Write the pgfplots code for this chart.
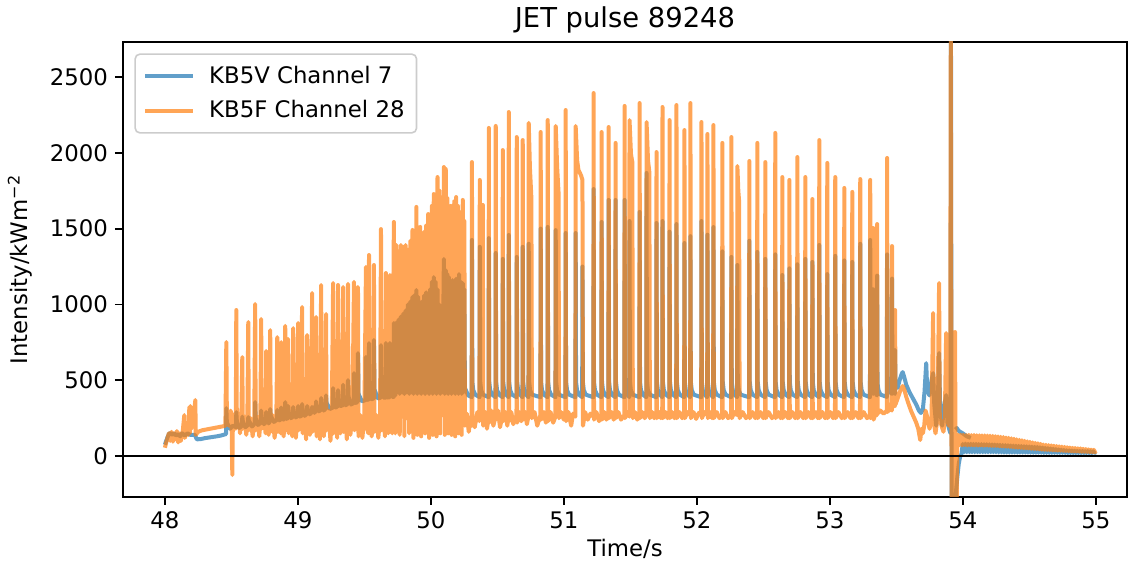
\documentclass[border=0pt]{standalone}
\usepackage{pgfplots}
\pgfplotsset{compat=1.18}
\usepackage{fontspec}
\setmainfont{DejaVu Sans}
\definecolor{tabblue}{HTML}{1F77B4}
\definecolor{taborange}{HTML}{FF7F0E}
\newcommand{\tickfont}{\fontsize{11.4}{13.7}\selectfont}
\begin{document}
\begin{tikzpicture}
\begin{axis}[
  scale only axis, width=502pt, height=227.5pt,
  xmin=47.685, xmax=55.235, ymin=-270, ymax=2731,
  xtick={48,49,...,55}, ytick={0,500,...,2500},
  tick align=outside, tick pos=left, major tick length=4pt,
  axis line style={line width=0.9pt},
  every tick/.style={black, line width=0.9pt},
  /pgf/number format/assume math mode=true,
  /pgf/number format/set thousands separator={},
  tick label style={font=\tickfont},
  label style={font=\tickfont},
  title={JET pulse 89248},
  title style={font=\fontsize{13.7}{16}\selectfont, at={(axis description cs:0.5,1)}, anchor=base, yshift=1pt},
  xlabel={Time/s},
  xlabel style={at={(axis description cs:0.5,0)}, anchor=base, yshift=-30pt},
  ylabel={Intensity/kWm\textsuperscript{−2}},
  ylabel style={at={(axis description cs:-0.1026,0.5)}, anchor=center},
  unbounded coords=jump,
  legend cell align=left,
  legend style={at={(axis description cs:0,1)}, anchor=north west, xshift=5.7pt, yshift=-5.7pt,
    draw=black!20, line width=0.8pt, rounded corners=2.3pt, fill=white, fill opacity=0.8, text opacity=1, draw opacity=1,
    font=\tickfont, inner xsep=4pt, inner ysep=4pt, row sep=3pt},
  legend image code/.code={\draw[#1] (0pt,0pt) -- (24pt,0pt); \path (29pt,0pt);},
]
\coordinate (ll) at (rel axis cs:0,0);
\coordinate (ur) at (rel axis cs:1,1);
% KB5V Channel 7
\addplot[tabblue, draw opacity=0.7, line width=2pt, line join=round, mark=none] coordinates {
(48.000,75) (48.010,100) (48.020,125) (48.030,145) (48.040,152) (48.055,140) (48.070,150) (48.085,135)
(48.100,145) (48.115,130) (48.130,150) (48.150,135) (48.170,150) (48.190,140) (48.225,140) (48.240,110)
(48.270,112) (48.300,118) (48.330,122) (48.360,126) (48.390,130) (48.420,135) (48.460,145)
(48.462,316) (48.466,220) (48.490,180) (48.510,200) (48.535,190) (48.537,290) (48.541,230) (48.560,185)
(48.580,200) (48.582,260) (48.586,230) (48.605,190) (48.625,205) (48.627,257) (48.631,235) (48.655,195)
(48.677,215) (48.679,356) (48.683,250) (48.700,205) (48.722,220) (48.724,300) (48.728,255) (48.745,210)
(48.760,225) (48.762,290) (48.766,260) (48.780,215) (48.790,230) (48.792,310) (48.796,265) (48.820,225)
(48.843,240) (48.845,304) (48.849,270) (48.862,235) (48.873,245) (48.875,320) (48.879,280) (48.892,240)
(48.903,250) (48.905,356) (48.909,285) (48.918,245) (48.925,255) (48.927,330) (48.931,290) (48.948,250)
(48.963,260) (48.965,323) (48.969,295) (48.985,255) (49.000,265) (49.002,330) (49.006,300) (49.018,260)
(49.030,270) (49.032,343) (49.036,305) (49.052,265) (49.068,280) (49.070,330) (49.074,310) (49.090,275)
(49.105,290) (49.107,323) (49.111,320) (49.125,285) (49.135,300) (49.137,360) (49.141,330) (49.158,295)
(49.173,305) (49.175,383) (49.179,340) (49.195,300) (49.210,315) (49.212,400) (49.216,350) (49.240,310)
(49.263,320) (49.265,448) (49.269,360) (49.285,320) (49.300,330) (49.302,435) (49.306,370) (49.322,330)
(49.338,335) (49.340,470) (49.344,380) (49.360,335) (49.375,345) (49.377,501) (49.381,390) (49.400,340)
(49.420,350) (49.422,547) (49.426,400) (49.438,350) (49.450,360) (49.452,679) (49.456,410) (49.482,360)
(49.510,370) (49.512,653) (49.516,420) (49.525,370) (49.533,375) (49.535,745) (49.539,430) (49.555,375)
(49.570,380) (49.572,765) (49.576,440) (49.600,380) (49.623,385) (49.625,732) (49.629,440) (49.645,385)
(49.660,385) (49.662,745) (49.666,440) (49.680,385) (49.690,390) (49.692,745) (49.696,440) (49.710,390)
(49.720,390) (49.722,877) (49.726,440)
(49.733,400) (49.740,880) (49.748,420) (49.757,900) (49.766,410) (49.775,920) (49.784,420) (49.793,940)
(49.801,410) (49.810,960) (49.819,420) (49.828,1000) (49.837,410) (49.846,1020) (49.854,420) (49.862,1050)
(49.869,410) (49.876,1060) (49.884,420) (49.891,1095) (49.898,410) (49.905,1050) (49.912,420) (49.920,1000)
(49.927,410) (49.935,1020) (49.942,420) (49.950,1060) (49.957,410) (49.965,1080) (49.972,420) (49.980,1073)
(49.987,410) (49.995,1100) (50.001,420) (50.008,1150) (50.015,410) (50.022,1180) (50.029,420) (50.036,1150)
(50.043,410) (50.050,1100) (50.056,420) (50.063,1000) (50.070,410) (50.077,900) (50.087,420) (50.098,1300)
(50.105,410) (50.112,1227) (50.118,420) (50.125,1200) (50.130,410) (50.136,1180) (50.143,420) (50.150,1150)
(50.156,410) (50.163,1160) (50.170,420) (50.176,1150) (50.183,410) (50.190,1170) (50.196,420) (50.203,1150)
(50.208,410) (50.212,1200) (50.218,420) (50.225,1150) (50.232,410) (50.240,1141) (50.246,420) (50.252,1100)
(50.256,450) (50.280,400)
(50.307,388) (50.309,1425) (50.312,490) (50.319,435) (50.334,405)
(50.366,388) (50.368,1380) (50.371,490) (50.378,435) (50.393,405)
(50.434,388) (50.436,1437) (50.439,490) (50.446,435) (50.461,405)
(50.486,388) (50.488,1339) (50.491,490) (50.498,435) (50.513,405)
(50.539,388) (50.541,1300) (50.544,490) (50.551,435) (50.566,405)
(50.584,388) (50.586,1458) (50.589,490) (50.596,435) (50.611,405)
(50.644,388) (50.646,1313) (50.649,490) (50.656,435) (50.671,405)
(50.689,388) (50.691,1380) (50.694,490) (50.701,435) (50.716,405)
(50.734,388) (50.736,1400) (50.739,490) (50.746,435) (50.761,405)
(50.824,388) (50.826,1500) (50.829,490) (50.836,435) (50.851,405)
(50.877,388) (50.879,1511) (50.882,490) (50.889,435) (50.904,405)
(50.937,388) (50.939,1490) (50.942,490) (50.949,435) (50.964,405)
(51.012,388) (51.014,1471) (51.017,490) (51.024,435) (51.039,405)
(51.087,388) (51.089,1471) (51.092,490) (51.099,435) (51.114,405)
(51.138,388) (51.140,1250) (51.143,490) (51.150,435) (51.165,405)
(51.222,388) (51.224,1761) (51.227,490) (51.234,435) (51.249,405)
(51.282,388) (51.284,1544) (51.287,490) (51.294,435) (51.309,405)
(51.335,388) (51.337,1689) (51.340,490) (51.347,435) (51.362,405)
(51.387,388) (51.389,1689) (51.392,490) (51.399,435) (51.414,405)
(51.455,388) (51.457,1689) (51.460,490) (51.467,435) (51.482,405)
(51.492,388) (51.494,1550) (51.497,490) (51.504,435) (51.519,405)
(51.568,388) (51.570,1610) (51.573,490) (51.580,435) (51.595,405)
(51.620,388) (51.622,1867) (51.625,490) (51.632,435) (51.647,405)
(51.695,388) (51.697,1537) (51.700,490) (51.707,435) (51.722,405)
(51.740,388) (51.742,1550) (51.745,490) (51.752,435) (51.767,405)
(51.793,388) (51.795,1480) (51.798,490) (51.805,435) (51.820,405)
(51.845,388) (51.847,1530) (51.850,490) (51.857,435) (51.872,405)
(51.905,388) (51.907,1405) (51.910,490) (51.917,435) (51.932,405)
(51.950,388) (51.952,1450) (51.955,490) (51.962,435) (51.977,405)
(52.033,388) (52.035,1550) (52.038,490) (52.045,435) (52.060,405)
(52.078,388) (52.080,1460) (52.083,490) (52.090,435) (52.105,405)
(52.123,388) (52.125,1510) (52.128,490) (52.135,435) (52.150,405)
(52.190,388) (52.192,1350) (52.195,490) (52.202,435) (52.217,405)
(52.258,388) (52.260,1313) (52.263,490) (52.270,435) (52.285,405)
(52.303,388) (52.305,1260) (52.308,490) (52.315,435) (52.330,405)
(52.393,388) (52.395,1420) (52.398,490) (52.405,435) (52.420,405)
(52.453,388) (52.455,1346) (52.458,490) (52.465,435) (52.480,405)
(52.513,388) (52.515,1300) (52.518,490) (52.525,435) (52.540,405)
(52.588,388) (52.590,1330) (52.593,490) (52.600,435) (52.615,405)
(52.641,388) (52.643,1194) (52.646,490) (52.653,435) (52.668,405)
(52.694,388) (52.696,1238) (52.699,490) (52.706,435) (52.721,405)
(52.754,388) (52.756,1265) (52.759,490) (52.766,435) (52.781,405)
(52.814,388) (52.816,1300) (52.819,490) (52.826,435) (52.841,405)
(52.867,388) (52.869,1280) (52.872,490) (52.879,435) (52.894,405)
(52.919,388) (52.921,1392) (52.924,490) (52.931,435) (52.946,405)
(52.979,388) (52.981,1200) (52.984,490) (52.991,435) (53.006,405)
(53.039,388) (53.041,1320) (53.044,490) (53.051,435) (53.066,405)
(53.107,388) (53.109,1290) (53.112,490) (53.119,435) (53.134,405)
(53.167,388) (53.169,1280) (53.172,490) (53.179,435) (53.194,405)
(53.227,388) (53.229,1400) (53.232,490) (53.239,435) (53.254,405)
(53.302,388) (53.304,1425) (53.307,490) (53.315,430) (53.324,410)
(53.326,1100) (53.329,480) (53.340,420)
(53.354,400) (53.356,1190) (53.359,480) (53.366,435) (53.381,405)
(53.429,390) (53.431,1330) (53.434,490) (53.441,440) (53.455,420)
(53.466,410) (53.468,1170) (53.471,480) (53.480,420) (53.489,410)
(53.491,700) (53.494,460)
(53.510,450) (53.525,500) (53.540,540) (53.548,554) (53.560,520) (53.575,470) (53.600,420) (53.625,380)
(53.650,340) (53.670,300) (53.685,284) (53.700,310) (53.712,420) (53.725,613) (53.732,450) (53.748,400)
(53.765,500) (53.777,547) (53.785,350) (53.800,200) (53.812,350) (53.822,679) (53.830,300) (53.845,200)
(53.860,330) (53.875,402) (53.885,220) (53.900,170) (53.908,150) (53.911,2900) (53.916,-400) (53.940,-400)
(53.950,-224) (53.960,-130) (53.970,-50) (53.980,-5) (53.990,15)
(54.000,80) (54.010,25) (54.020,82) (54.030,25) (54.040,80) (54.050,25) (54.060,81) (54.070,25)
(54.080,80) (54.090,25) (54.100,80) (54.110,25) (54.120,79) (54.130,25) (54.140,79) (54.150,25)
(54.160,78) (54.170,25) (54.180,78) (54.190,25) (54.200,77) (54.210,25) (54.220,77) (54.230,25)
(54.240,76) (54.250,25) (54.260,75) (54.270,24) (54.280,74) (54.290,24) (54.300,73) (54.310,23)
(54.320,72) (54.330,23) (54.340,71) (54.350,23) (54.360,70) (54.370,23) (54.380,69) (54.390,23)
(54.400,68) (54.410,23) (54.420,67) (54.430,23) (54.440,66) (54.450,23) (54.460,65) (54.470,23)
(54.480,64) (54.490,23) (54.500,63) (54.510,22) (54.520,62) (54.530,22) (54.540,61) (54.550,22)
(54.560,60) (54.570,22) (54.580,58) (54.590,22) (54.600,56) (54.610,21) (54.620,54) (54.630,21)
(54.640,52) (54.650,21) (54.660,50) (54.670,21) (54.680,48) (54.690,21) (54.700,46) (54.710,21)
(54.720,44) (54.730,21) (54.740,42) (54.750,21) (54.760,40) (54.770,21) (54.780,38) (54.790,20)
(54.800,37) (54.810,20) (54.820,36) (54.830,20) (54.840,35) (54.850,20) (54.860,34) (54.870,20)
(54.880,33) (54.890,20) (54.900,33) (54.910,20) (54.920,32) (54.930,20) (54.940,32) (54.950,20)
(54.960,31) (54.970,20) (54.980,31) (54.990,20) (55.000,25)
(55.000,nan)
(53.945,175) (53.955,185) (53.965,170) (53.980,160) (54.000,150) (54.030,130) (54.060,120)
};
\addlegendentry{\tickfont KB5V Channel 7}
% KB5F Channel 28
\addplot[taborange, draw opacity=0.7, line width=2pt, line join=round, mark=none] coordinates {
(48.000,55) (48.010,90) (48.020,120) (48.030,150) (48.040,100) (48.050,160) (48.060,95) (48.070,150)
(48.080,110) (48.090,165) (48.100,90) (48.110,150) (48.120,100) (48.135,170) (48.146,270) (48.150,120)
(48.165,160) (48.175,140) (48.184,323) (48.188,150) (48.191,330) (48.195,180) (48.210,200) (48.229,370)
(48.232,140) (48.250,160) (48.280,170) (48.310,175) (48.340,180) (48.370,185) (48.400,190) (48.430,195)
(48.455,200) (48.462,752) (48.466,260) (48.480,200) (48.495,300) (48.503,160) (48.507,-125) (48.511,220)
(48.525,280) (48.533,180) (48.537,963) (48.541,200) (48.555,280) (48.565,150) (48.575,250) (48.582,653)
(48.586,180) (48.600,260) (48.612,140) (48.620,230) (48.627,884) (48.631,170) (48.645,250) (48.660,130)
(48.672,240) (48.679,1003) (48.683,170) (48.695,260) (48.710,130) (48.718,240) (48.724,904) (48.728,180)
(48.745,270) (48.757,150) (48.762,693) (48.766,220) (48.780,140) (48.788,250) (48.792,831) (48.796,160)
(48.810,270) (48.825,120) (48.838,240) (48.845,785) (48.849,160) (48.860,260) (48.871,150) (48.875,752)
(48.879,220) (48.893,130) (48.900,250) (48.905,858) (48.909,170) (48.920,260) (48.927,772) (48.931,150)
(48.945,270) (48.958,130) (48.965,844) (48.969,240) (48.985,120) (48.995,250) (49.002,877) (49.006,170)
(49.020,290) (49.032,983) (49.036,150) (49.050,260) (49.062,110) (49.070,798) (49.074,230) (49.090,140)
(49.100,270) (49.107,1075) (49.111,160) (49.125,280) (49.137,917) (49.141,130) (49.155,260) (49.166,110)
(49.175,1128) (49.179,240) (49.195,130) (49.205,280) (49.212,937) (49.216,170) (49.230,300) (49.245,100)
(49.255,250) (49.265,1141) (49.269,150) (49.285,280) (49.296,120) (49.302,1128) (49.306,250) (49.320,150)
(49.333,280) (49.340,1115) (49.344,160) (49.358,270) (49.368,110) (49.377,1135) (49.381,240) (49.395,140)
(49.410,270) (49.422,1148) (49.426,170) (49.440,260) (49.452,1115) (49.456,130) (49.470,270) (49.485,120)
(49.500,260) (49.512,1247) (49.516,200) (49.530,150) (49.535,1326) (49.539,230) (49.555,130) (49.565,250)
(49.572,1260) (49.576,160) (49.590,270) (49.605,120) (49.618,250) (49.625,1497) (49.629,170) (49.645,260)
(49.655,130) (49.662,1207) (49.666,240) (49.680,150) (49.692,1194) (49.696,220) (49.710,150) (49.722,1544)
(49.726,200) (49.733,150) (49.740,1392) (49.748,250) (49.757,1350) (49.766,140) (49.775,1392) (49.784,260)
(49.793,1379) (49.801,130) (49.810,1392) (49.819,250) (49.828,1360) (49.837,150) (49.846,1420) (49.854,240)
(49.862,1491) (49.869,120) (49.876,1400) (49.884,250) (49.891,1643) (49.898,140) (49.905,1450) (49.912,260)
(49.920,1511) (49.927,130) (49.935,1420) (49.942,250) (49.950,1480) (49.957,150) (49.965,1520) (49.972,240)
(49.980,1596) (49.987,120) (49.995,1560) (50.001,250) (50.008,1650) (50.015,140) (50.022,1728) (50.029,260)
(50.036,1700) (50.043,130) (50.050,1840) (50.056,250) (50.063,1750) (50.070,150) (50.077,1650) (50.087,270)
(50.098,1906) (50.105,140) (50.112,1893) (50.118,250) (50.125,1700) (50.130,150) (50.136,1636) (50.143,260)
(50.150,1650) (50.156,140) (50.163,1620) (50.170,250) (50.176,1680) (50.183,130) (50.190,1708) (50.196,260)
(50.203,1650) (50.208,150) (50.212,1610) (50.218,250) (50.225,1600) (50.232,140) (50.240,1689) (50.246,250)
(50.252,1550) (50.256,200) (50.270,280) (50.285,160) (50.300,260) (50.307,200)
(50.309,1939) (50.312,250) (50.330,190) (50.350,290) (50.365,230) (50.368,1821) (50.371,300) (50.388,250)
(50.391,1656) (50.394,200) (50.410,290) (50.422,180) (50.434,250) (50.436,2164) (50.439,220) (50.455,300)
(50.470,200) (50.486,260) (50.488,2177) (50.491,240) (50.505,300) (50.520,190) (50.539,270) (50.541,2018)
(50.544,230) (50.560,290) (50.575,200) (50.584,260) (50.586,2269) (50.589,230) (50.605,290) (50.620,210)
(50.644,270) (50.646,2104) (50.649,220) (50.665,290) (50.680,230) (50.689,250) (50.691,2084) (50.694,240)
(50.710,290) (50.722,210) (50.734,260) (50.736,2197) (50.745,1900) (50.756,1702) (50.760,250) (50.780,290)
(50.800,200) (50.824,270) (50.826,2137) (50.829,240) (50.850,290) (50.865,220) (50.877,260) (50.879,2216)
(50.882,230) (50.900,290) (50.920,220) (50.937,260) (50.939,2177) (50.950,1900) (50.960,1742) (50.964,250)
(50.980,290) (51.000,240) (51.012,270) (51.014,2282) (51.017,230) (51.035,290) (51.055,200) (51.070,280)
(51.087,260) (51.089,2177) (51.100,1950) (51.110,1887) (51.130,1850) (51.140,1821) (51.144,200) (51.160,290)
(51.180,240) (51.200,280) (51.222,260) (51.224,2394) (51.227,240) (51.245,290) (51.265,230) (51.282,270)
(51.284,2137) (51.287,240) (51.305,290) (51.320,240) (51.335,270) (51.337,2170) (51.340,250) (51.360,290)
(51.375,240) (51.387,270) (51.389,2065) (51.392,250) (51.410,290) (51.430,240) (51.455,270) (51.457,2309)
(51.460,250) (51.478,290) (51.492,260) (51.494,2216) (51.505,1990) (51.515,1939) (51.519,250) (51.535,290)
(51.552,240) (51.568,270) (51.570,2328) (51.573,250) (51.590,290) (51.608,250) (51.620,270) (51.622,2203)
(51.633,1950) (51.643,1873) (51.647,250) (51.665,290) (51.680,250) (51.695,270) (51.697,2005) (51.700,250)
(51.718,290) (51.730,250) (51.740,270) (51.742,2302) (51.745,250) (51.765,290) (51.780,250) (51.793,270)
(51.795,2216) (51.798,250) (51.815,290) (51.832,250) (51.845,270) (51.847,2315) (51.850,250) (51.870,290)
(51.890,250) (51.905,270) (51.907,2150) (51.910,250) (51.930,290) (51.950,270) (51.952,2328) (51.955,250)
(51.975,290) (51.995,245) (52.015,285) (52.033,270) (52.035,2203) (52.038,250) (52.058,290) (52.078,270)
(52.080,2124) (52.083,250) (52.100,290) (52.115,250) (52.123,270) (52.125,2183) (52.128,250) (52.150,290)
(52.170,250) (52.190,270) (52.192,2065) (52.195,250) (52.215,290) (52.235,250) (52.258,270) (52.260,2104)
(52.263,250) (52.283,290) (52.303,270) (52.305,1913) (52.312,1750) (52.318,1682) (52.322,250) (52.345,290)
(52.370,250) (52.393,270) (52.395,1946) (52.398,250) (52.420,290) (52.440,250) (52.453,270) (52.455,2065)
(52.458,250) (52.480,290) (52.500,250) (52.513,270) (52.515,1939) (52.518,250) (52.540,290) (52.565,250)
(52.588,270) (52.590,2131) (52.593,250) (52.615,290) (52.630,250) (52.641,270) (52.643,1840) (52.646,250)
(52.665,290) (52.685,250) (52.694,270) (52.696,1821) (52.699,250) (52.720,290) (52.740,250) (52.754,270)
(52.756,1972) (52.759,250) (52.780,290) (52.800,250) (52.814,270) (52.816,1840) (52.819,250) (52.840,290)
(52.858,250) (52.867,270) (52.869,1695) (52.872,250) (52.895,290) (52.910,250) (52.919,270) (52.921,2084)
(52.924,250) (52.945,290) (52.965,250) (52.979,270) (52.981,1933) (52.984,250) (53.005,290) (53.025,250)
(53.039,270) (53.041,1840) (53.044,250) (53.065,290) (53.090,250) (53.107,270) (53.109,1768) (53.112,250)
(53.135,290) (53.155,250) (53.167,270) (53.169,1742) (53.172,250) (53.195,290) (53.215,250) (53.227,270)
(53.229,1827) (53.232,250) (53.255,290) (53.280,250) (53.302,270) (53.304,1821) (53.307,250) (53.315,260)
(53.324,270) (53.326,1504) (53.329,240) (53.345,280) (53.354,270) (53.356,1530) (53.359,280) (53.380,300)
(53.405,280) (53.429,300) (53.431,1966) (53.434,290) (53.450,320) (53.466,300) (53.468,1385) (53.472,330)
(53.489,330) (53.491,963) (53.494,340) (53.510,380) (53.530,430) (53.548,462) (53.560,440) (53.575,390)
(53.590,350) (53.610,300) (53.630,260) (53.650,220) (53.665,180) (53.680,106) (53.690,180) (53.700,150)
(53.710,200) (53.720,300) (53.735,250) (53.750,180) (53.765,250) (53.777,943) (53.782,220) (53.795,150)
(53.810,250) (53.822,1141) (53.827,250) (53.840,200) (53.855,160) (53.865,250) (53.875,811) (53.880,280)
(53.895,200) (53.905,250) (53.910,2900) (53.916,-400) (53.936,-400) (53.942,818) (53.947,-400) (53.954,-350)
(53.958,110) (53.965,140) (53.975,72) (53.985,141) (53.995,70) (54.005,140) (54.015,72) (54.025,139)
(54.035,70) (54.045,140) (54.055,71) (54.065,138) (54.075,70) (54.085,139) (54.095,70) (54.105,137)
(54.115,69) (54.125,137) (54.135,70) (54.145,136) (54.155,68) (54.165,136) (54.175,69) (54.185,135)
(54.195,68) (54.205,134) (54.215,67) (54.225,133) (54.235,66) (54.245,131) (54.255,66) (54.265,129)
(54.275,64) (54.285,127) (54.295,63) (54.305,125) (54.315,62) (54.325,122) (54.335,61) (54.345,120)
(54.355,60) (54.365,117) (54.375,58) (54.385,114) (54.395,56) (54.405,110) (54.415,55) (54.425,107)
(54.435,54) (54.445,104) (54.455,52) (54.465,100) (54.475,51) (54.485,97) (54.495,50) (54.505,94)
(54.515,48) (54.525,90) (54.535,47) (54.545,87) (54.555,46) (54.565,84) (54.575,44) (54.585,80)
(54.595,42) (54.605,76) (54.615,41) (54.625,74) (54.635,40) (54.645,72) (54.655,39) (54.665,70)
(54.675,38) (54.685,68) (54.695,37) (54.705,66) (54.715,36) (54.725,64) (54.735,35) (54.745,62)
(54.755,34) (54.765,60) (54.775,33) (54.785,58) (54.795,32) (54.805,56) (54.815,31) (54.825,54)
(54.835,30) (54.845,53) (54.855,30) (54.865,51) (54.875,29) (54.885,50) (54.895,28) (54.905,48)
(54.915,28) (54.925,46) (54.935,27) (54.945,44) (54.955,26) (54.965,42) (54.975,26) (54.985,41)
(54.995,25) (55.000,32)
};
\addlegendentry{\tickfont KB5F Channel 28}
\addplot[black, line width=0.6pt, forget plot] coordinates {(47.685,0) (55.235,0)};
\end{axis}
\pgfresetboundingbox
\path[use as bounding box] ([xshift=-61.5pt,yshift=-36pt]ll) rectangle ([xshift=1pt,yshift=21pt]ur);
\end{tikzpicture}
\end{document}
